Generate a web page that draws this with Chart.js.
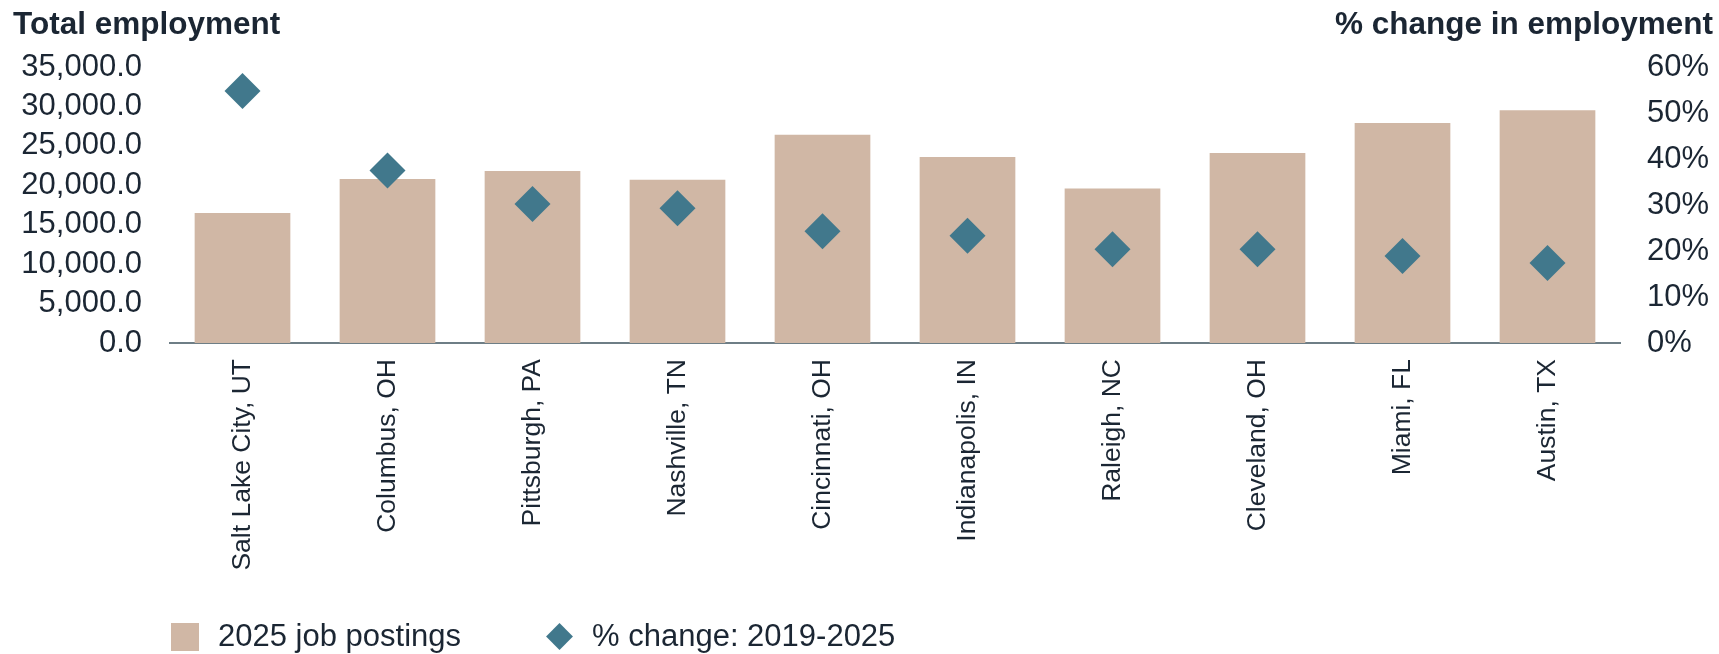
<!DOCTYPE html>
<html>
<head>
<meta charset="utf-8">
<script src="https://cdn.jsdelivr.net/npm/chart.js@4.4.1/dist/chart.umd.min.js"></script>
<style>
  body { margin: 0; background: #fff; }
  #wrap { position: relative; width: 1719px; height: 654px; }
  #chart { position: absolute; left: 0; top: 0; }
  .lg { position: absolute; }
  .lg-text { font: 31px "Liberation Sans", Arial, sans-serif; line-height: 28px; color: #1B2633; white-space: nowrap; }
</style>
</head>
<body>
<div id="wrap">
  <canvas id="chart" width="1719" height="654"></canvas>
  <div class="lg" id="lgBar" style="left:171px; top:623px; width:28px; height:28px;"></div>
  <div class="lg lg-text" id="lgBarText" style="left:218px; top:622px;"></div>
  <div class="lg" id="lgPct" style="left:550px; top:627px; width:19px; height:19px; transform:rotate(45deg);"></div>
  <div class="lg lg-text" id="lgPctText" style="left:592px; top:622px;"></div>
</div>
<script>
const cities = ["Salt Lake City, UT", "Columbus, OH", "Pittsburgh, PA", "Nashville, TN", "Cincinnati, OH",
  "Indianapolis, IN", "Raleigh, NC", "Cleveland, OH", "Miami, FL", "Austin, TX"];
const jobPostings = [16500, 20800, 21800, 20700, 26400, 23600, 19600, 24100, 27900, 29500];
const pctChange = [54.8, 37.5, 30.2, 29.3, 24.3, 23.3, 20.4, 20.4, 18.9, 17.4];
const seriesNames = ["2025 job postings", "% change: 2019-2025"];
const axisTitles = ["Total employment", "% change in employment"];

const barColor = "#D0B7A5";
const diamondColor = "#41788C";
const textColor = "#1B2633";
const font = "'Liberation Sans', Arial, sans-serif";

document.getElementById("lgBar").style.background = barColor;
document.getElementById("lgPct").style.background = diamondColor;
document.getElementById("lgBarText").textContent = seriesNames[0];
document.getElementById("lgPctText").textContent = seriesNames[1];

// axis titles on top of the plot
const topTitles = {
  id: "topTitles",
  afterDraw(chart) {
    const ctx = chart.ctx;
    ctx.save();
    ctx.fillStyle = textColor;
    ctx.font = "bold 31.5px " + font;
    ctx.textBaseline = "alphabetic";
    ctx.textAlign = "left";
    ctx.fillText(axisTitles[0], 13, 34);
    ctx.textAlign = "right";
    ctx.fillText(axisTitles[1], 1713, 34);
    ctx.restore();
  }
};

new Chart(document.getElementById("chart"), {
  data: {
    labels: cities,
    datasets: [
      {
        type: "line",
        label: seriesNames[1],
        data: pctChange,
        yAxisID: "y1",
        showLine: false,
        pointStyle: "rectRot",
        pointRadius: 18,
        pointHoverRadius: 18,
        pointBackgroundColor: diamondColor,
        pointBorderWidth: 0,
        order: 0
      },
      {
        type: "bar",
        label: seriesNames[0],
        data: jobPostings,
        yAxisID: "y",
        backgroundColor: barColor,
        barPercentage: 0.66,
        categoryPercentage: 1,
        order: 1
      }
    ]
  },
  options: {
    responsive: false,
    animation: false,
    layout: { padding: { top: 67, left: 0, right: 0, bottom: 0 } },
    plugins: {
      legend: { display: false },
      tooltip: { enabled: false }
    },
    scales: {
      x: {
        grid: { display: false, drawTicks: false },
        border: { color: "#6E7E86", width: 2 },
        ticks: {
          color: textColor,
          font: { family: font, size: 26.5 },
          maxRotation: 90,
          minRotation: 90,
          padding: 16,
          autoSkip: false
        },
        afterFit: s => { s.height = 311; }
      },
      y: {
        position: "left",
        min: 0,
        max: 35000,
        grid: { display: false, drawTicks: false },
        border: { display: false },
        ticks: {
          stepSize: 5000,
          autoSkip: false,
          color: textColor,
          font: { family: font, size: 31 },
          padding: 28,
          callback: v => v.toLocaleString("en-US", { minimumFractionDigits: 1, maximumFractionDigits: 1 })
        },
        afterFit: s => { s.width = 170; }
      },
      y1: {
        position: "right",
        min: 0,
        max: 60,
        grid: { display: false, drawTicks: false },
        border: { display: false },
        ticks: {
          stepSize: 10,
          autoSkip: false,
          color: textColor,
          font: { family: font, size: 31 },
          padding: 27,
          callback: v => v + "%"
        },
        afterFit: s => { s.width = 99; }
      }
    }
  },
  plugins: [topTitles]
});
</script>
</body>
</html>
